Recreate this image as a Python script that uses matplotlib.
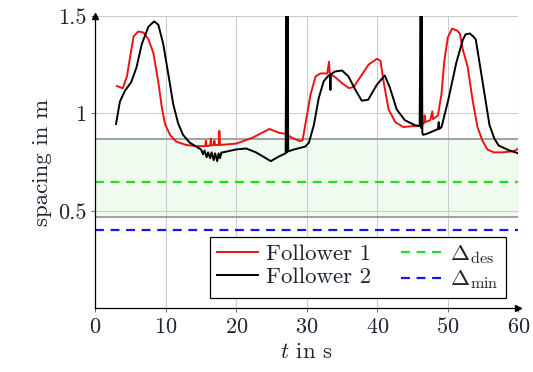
import matplotlib
matplotlib.use("Agg")
import matplotlib.pyplot as plt

plt.rcParams['font.family'] = ['cmr10', 'DejaVu Serif']
plt.rcParams['mathtext.fontset'] = 'cm'
plt.rcParams['axes.formatter.use_mathtext'] = True

# ---- data ----
t_f1 = [3.1, 3.5, 3.9, 4.5, 5.0, 5.45, 6.1, 6.85, 7.55, 8.25, 8.95, 9.45, 9.9, 10.6, 11.5, 12.9,
        14.3, 15.6, 15.7, 15.8, 16.3, 16.4, 16.5, 16.8, 16.9, 17.0, 17.5, 17.6, 17.7,
        20.0, 22.3, 24.7, 26.1, 27.0, 27.9, 29.0, 29.4, 29.85, 30.55, 31.25, 31.95, 32.9,
        33.15, 33.25, 34.05, 35.0, 35.95, 36.65, 37.65, 38.75, 39.95, 40.45, 40.9, 41.6,
        42.55, 43.7, 45.15, 46.2, 46.6, 46.7, 46.8, 47.5, 47.8, 47.9, 48.6,
        49.1, 49.5, 50.0, 50.6, 51.3, 51.7, 52.1, 52.8, 53.5, 54.2, 54.9, 55.6, 56.5,
        57.7, 59.0, 59.6, 60.0]
v_f1 = [1.14, 1.135, 1.128, 1.19, 1.30, 1.395, 1.42, 1.415, 1.38, 1.31, 1.16, 1.03, 0.945, 0.89, 0.855, 0.838,
        0.832, 0.832, 0.86, 0.832, 0.835, 0.87, 0.835, 0.838, 0.86, 0.838, 0.838, 0.91, 0.838,
        0.845, 0.875, 0.92, 0.90, 0.895, 0.875, 0.858, 0.862, 0.955, 1.10, 1.19, 1.205, 1.205,
        1.265, 1.205, 1.185, 1.155, 1.13, 1.135, 1.19, 1.25, 1.28, 1.27, 1.16, 1.02,
        0.955, 0.93, 0.935, 0.935, 0.95, 0.99, 0.955, 0.965, 1.01, 0.97, 0.99,
        1.1, 1.27, 1.39, 1.435, 1.425, 1.41, 1.33, 1.24, 1.07, 0.93, 0.86, 0.815, 0.80,
        0.80, 0.805, 0.81, 0.82]

t_f2 = [2.95, 3.5, 4.2, 5.1, 5.85, 6.6, 7.55, 8.35, 8.95, 9.65, 10.35, 11.05, 11.75, 12.45, 13.4,
        14.3, 15.0, 15.3, 15.5, 15.8, 16.0, 16.3, 16.5, 16.8, 17.0, 17.3, 17.5, 17.7, 17.9, 18.1,
        20.0, 21.4, 22.8, 24.9, 26.1, 27.0, 27.12, 27.2, 27.28, 27.36, 28.2, 29.8,
        30.3, 31.0, 31.7, 32.4, 33.1, 33.3, 33.35, 33.4, 34.0, 35.0, 35.9, 36.9, 37.8, 38.7,
        39.9, 41.05, 41.8, 42.75, 43.9, 45.3, 46.0, 46.15, 46.22, 46.3, 46.38, 46.5,
        47.0, 48.0, 48.6, 48.7, 48.8, 49.1, 50.0, 51.2, 52.1, 52.5, 53.1, 53.6, 53.95,
        54.8, 55.9, 56.6, 57.2, 58.7, 60.0]
v_f2 = [0.945, 1.06, 1.115, 1.16, 1.235, 1.355, 1.445, 1.472, 1.455, 1.355, 1.205, 1.05, 0.95, 0.89, 0.85,
        0.83, 0.815, 0.79, 0.81, 0.775, 0.80, 0.77, 0.80, 0.76, 0.795, 0.755, 0.795, 0.77, 0.80, 0.80,
        0.815, 0.82, 0.80, 0.755, 0.78, 0.795, 1.7, 0.80, 1.7, 0.805, 0.815, 0.83,
        0.85, 0.94, 1.08, 1.165, 1.195, 1.195, 1.12, 1.2, 1.215, 1.22, 1.19, 1.12, 1.065, 1.07,
        1.145, 1.195, 1.13, 1.02, 0.965, 0.94, 0.935, 1.7, 0.925, 1.7, 0.90, 0.89,
        0.895, 0.91, 0.92, 0.955, 0.92, 0.93, 1.06, 1.26, 1.375, 1.405, 1.41, 1.395, 1.38,
        1.19, 0.94, 0.87, 0.835, 0.81, 0.795]

delta_des = 0.65
delta_min = 0.40
band_low, band_high = 0.469, 0.87

x_ticks = [0, 10, 20, 30, 40, 50, 60]
y_ticks = [0.5, 1.0, 1.5]
y_tick_labels = ['0.5', '1', '1.5']

# ---- figure ----
txtc = '#1c2430'
fig = plt.figure(figsize=(5.33, 3.72), dpi=100)
ax = fig.add_axes([0.1786, 0.1712, 0.794, 0.786])

ax.axhspan(band_low, band_high, facecolor='#f0fbf0', edgecolor='none', zorder=0)
ax.axhline(band_low, color='#9a9a9a', lw=1.3, zorder=1)
ax.axhline(band_high, color='#9a9a9a', lw=1.3, zorder=1)

ax.plot(t_f1, v_f1, color='#ee1111', lw=1.4, label='Follower 1', zorder=3)
ax.plot(t_f2, v_f2, color='black', lw=1.4, label='Follower 2', zorder=4)
ax.axhline(delta_des, color='#22dd22', lw=1.6, ls=(0, (4, 3)), label=r'$\Delta_{\rm des}$', zorder=2)
ax.axhline(delta_min, color='#1515ee', lw=1.6, ls=(0, (4, 3)), label=r'$\Delta_{\rm min}$', zorder=2)

ax.set_xlim(0, 60)
ax.set_ylim(0, 1.5)
ax.set_xticks(x_ticks)
ax.set_yticks(y_ticks, labels=y_tick_labels)
ax.grid(True, color='#cccccc', lw=0.8)
ax.set_axisbelow(True)

for s in ['top', 'right']:
    ax.spines[s].set_visible(False)
for s in ['left', 'bottom']:
    ax.spines[s].set_color('black')
    ax.spines[s].set_linewidth(0.9)
ax.plot(1, 0, marker='>', color='black', ms=4, transform=ax.transAxes, clip_on=False)
ax.plot(0, 1, marker='^', color='black', ms=4, transform=ax.transAxes, clip_on=False)

ax.tick_params(axis='both', direction='out', length=3, width=0.6,
               labelsize=16, labelcolor=txtc, color='#555555')
ax.set_xlabel(r'$t$ in s', fontsize=16.5, color=txtc, labelpad=4)
ax.set_ylabel('spacing in m', fontsize=16.5, color=txtc, labelpad=4)

leg = ax.legend(ncol=2, loc='lower right', bbox_to_anchor=(0.970, 0.034),
                borderaxespad=0, fontsize=16.5, frameon=True, fancybox=False,
                edgecolor='black', framealpha=1, handlelength=1.8, handletextpad=0.35,
                columnspacing=1.3, labelspacing=0.1, borderpad=0.3)
leg.get_frame().set_linewidth(0.9)
for txt in leg.get_texts():
    txt.set_color(txtc)

fig.savefig('out.png', dpi=100)
